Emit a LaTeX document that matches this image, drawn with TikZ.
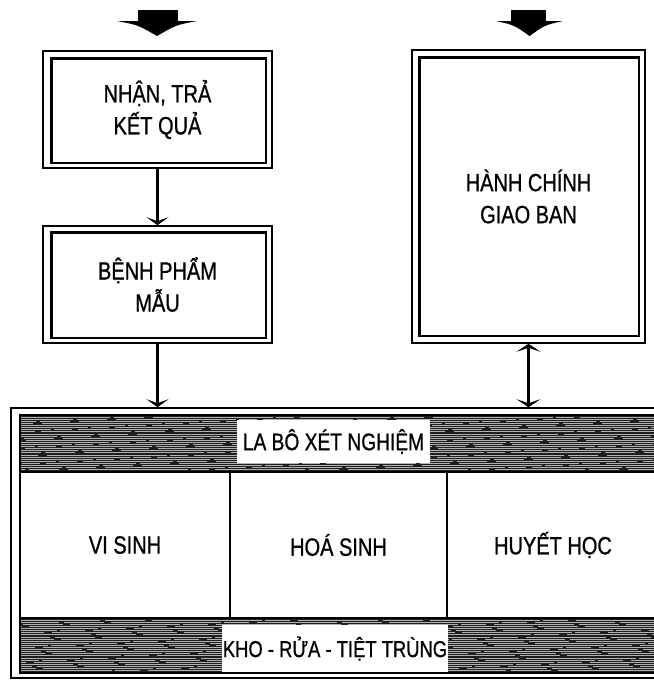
\documentclass[tikz,border=0pt]{standalone}
\usepackage{fontspec}
\setmainfont{Liberation Sans}[FakeStretch=0.8,FakeBold=0.8]
\usetikzlibrary{arrows.meta}
\begin{document}
\begin{tikzpicture}[x=1pt,y=-1pt,
  boxouter/.style={draw, line width=1.6pt, inner sep=0pt, align=center,
    font=\fontsize{25}{32}\selectfont},
  boxinner/.style={line width=2.6pt},
  conn/.style={line width=3.8pt, -{Stealth[length=8pt,width=22pt,inset=4pt]}},
  conntwo/.style={line width=3.8pt, {Stealth[length=8pt,width=24pt,inset=4pt]}-{Stealth[length=8pt,width=24pt,inset=4pt]}},
  band/.style={fill=black!88},
  streak/.style={black!30, line width=0.6pt},
  bandlabel/.style={fill=white, inner sep=0pt},
  cell/.style={draw, line width=2pt, inner sep=0pt, minimum height=146pt,
    font=\fontsize{25}{28}\selectfont},
  blockarrow/.style={fill=black}
]
\useasboundingbox (0,0) rectangle (654,681);
\fill[white] (0,0) rectangle (654,681);
\clip (0,0) rectangle (654,681);

% top block arrows
\fill[blockarrow] (138,10) rectangle (178,22);
\fill[blockarrow] (117,21) -- (197,21) .. controls (176,25) .. (157,36) .. controls (138,25) .. (117,21) -- cycle;
\fill[blockarrow] (511,10) rectangle (546,22);
\fill[blockarrow] (496,21) -- (563,21) .. controls (545,25) .. (529.5,36) .. controls (514,25) .. (496,21) -- cycle;

% boxes
\node[boxouter, minimum width=229pt, minimum height=117pt] (b1) at (157.5,109.5) {NHẬN, TRẢ\\KẾT QUẢ};
\draw[boxinner] ([xshift=9pt,yshift=-8pt]b1.north west) rectangle ([xshift=-7pt,yshift=6pt]b1.south east);

\node[boxouter, minimum width=229pt, minimum height=117pt] (b2) at (157.5,284.5) {BỆNH PHẨM\\MẪU};
\draw[boxinner] ([xshift=9pt,yshift=-7pt]b2.north west) rectangle ([xshift=-7pt,yshift=6pt]b2.south east);

\node[boxouter, minimum width=233pt, minimum height=293pt] (b3) at (528.5,196.5) {HÀNH CHÍNH\\GIAO BAN};
\draw[boxinner] ([xshift=8pt,yshift=-8pt]b3.north west) rectangle ([xshift=-7pt,yshift=8pt]b3.south east);

% laboratory block
\node[draw, line width=1.6pt, inner sep=0pt, minimum width=700pt, minimum height=270pt] (lab) at (361,543) {};
\fill[band] (20,415) rectangle (720,472);
\fill[band] (20,618) rectangle (720,673);
\foreach \k in {0,...,26} {
  \draw[streak, dash pattern=on 90pt off 4pt on 30pt off 9pt on 120pt off 3pt on 18pt off 6pt, dash phase=\k*37pt] (20,{417+2.1*\k}) -- (720,{417+2.1*\k});
}
\foreach \k in {0,...,24} {
  \draw[streak, dash pattern=on 80pt off 5pt on 40pt off 7pt on 110pt off 3pt on 25pt off 8pt, dash phase=\k*41pt] (20,{620+2.1*\k}) -- (720,{620+2.1*\k});
}
\draw[line width=2pt] (20,415) rectangle (720,673);

\node[cell, minimum width=210pt] (c1) at (125,545) {VI SINH};
\node[cell, minimum width=217pt] (c2) at (338.5,545) {HOÁ SINH};
\node[cell, minimum width=212pt] (c3) at (553,545) {HUYẾT HỌC};

\node[bandlabel, minimum width=193pt, minimum height=43pt, font=\fontsize{24}{28}\selectfont] (t1) at (333.5,441.5) {LA BÔ XÉT NGHIỆM};
\node[bandlabel, minimum width=226pt, minimum height=47pt, font=\fontsize{23}{28}\selectfont] (t2) at (335,648.5) {KHO - RỬA - TIỆT TRÙNG};

% connectors
\draw[conn] (b1.south) -- (b2.north);
\draw[conn] (b2.south) -- (b2.south |- lab.north);
\draw[conntwo] (b3.south) -- (b3.south |- lab.north);
\end{tikzpicture}
\end{document}
